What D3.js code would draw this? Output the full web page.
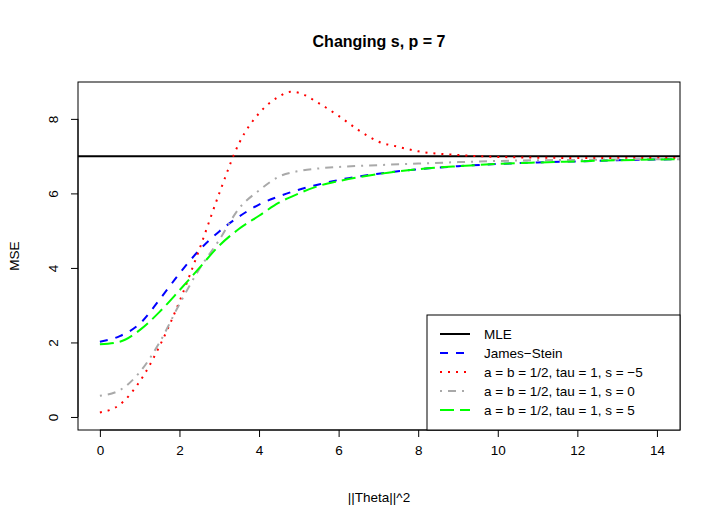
<!DOCTYPE html>
<html><head><meta charset="utf-8">
<script src="https://cdn.jsdelivr.net/npm/d3@7"></script>
<style>body{margin:0;background:#fff}svg{font-family:"Liberation Sans",Arial,sans-serif}</style>
</head><body><svg id="c" width="720" height="528"></svg>
<script>
const xGrid = [0,0.5,1,1.5,2,2.5,3,3.5,4,4.5,5,5.5,6,7,8,9,10,11,12,13,14,14.6];
const jsVals = [2.02,2.17,2.5,3.15,3.85,4.48,4.98,5.38,5.7,5.92,6.1,6.24,6.36,6.53,6.65,6.73,6.79,6.83,6.86,6.89,6.91,6.92];
const s5Vals = [1.95,2.02,2.33,2.82,3.4,4.0,4.6,5.05,5.4,5.75,6.0,6.2,6.33,6.52,6.65,6.73,6.79,6.83,6.86,6.89,6.91,6.92];
const s0Vals = [0.57,0.72,1.2,2.0,3.03,3.97,4.75,5.6,6.08,6.45,6.6,6.67,6.71,6.76,6.8,6.84,6.87,6.89,6.9,6.91,6.92,6.92];
const xRed = [0,0.5,1,1.5,2,2.5,3,3.5,4,4.5,4.8,5,5.5,6,6.5,7,7.5,8,9,10,11,12,13,14,14.6];
const sm5Vals = [0.12,0.33,0.95,1.9,3.1,4.5,6.0,7.35,8.15,8.6,8.73,8.7,8.42,8.08,7.7,7.39,7.25,7.13,7.03,6.98,6.96,6.95,6.95,6.95,6.95];
const mleValue = 7;
const xTicks = [0,2,4,6,8,10,12,14];
const yTicks = [0,2,4,6,8];
const legendLabels = ["MLE","James\u2212Stein","a = b = 1/2, tau = 1, s = \u22125","a = b = 1/2, tau = 1, s = 0","a = b = 1/2, tau = 1, s = 5"];

const L=78,R=680,T=82,B=430;
const svg=d3.select("#c");
const x=d3.scaleLinear().domain([-0.55,14.58]).range([L,R]);
const y=d3.scaleLinear().domain([-0.35,8.99]).range([B,T]);
svg.append("defs").append("clipPath").attr("id","cp").append("rect").attr("x",L).attr("y",T).attr("width",R-L).attr("height",B-T);

const styles=[
 {c:"#000",d:null},
 {c:"#0000FF",d:"8,8"},
 {c:"#FF0000",d:"2,6"},
 {c:"#A9A9A9",d:"2,6,8,6"},
 {c:"#00FF00",d:"14,6"}];
const g=svg.append("g").attr("clip-path","url(#cp)");
const line=d3.line().x(d=>x(d[0])).y(d=>y(d[1])).curve(d3.curveMonotoneX);
g.append("line").attr("x1",L).attr("x2",R).attr("y1",y(mleValue)).attr("y2",y(mleValue)).attr("stroke","#000").attr("stroke-width",2);
const series=[[xGrid,jsVals,1],[xRed,sm5Vals,2],[xGrid,s0Vals,3],[xGrid,s5Vals,4]];
series.forEach(([xs,vs,i])=>{
 g.append("path").attr("d",line(xs.map((v,k)=>[v,vs[k]]))).attr("fill","none")
  .attr("stroke",styles[i].c).attr("stroke-width",2).attr("stroke-dasharray",styles[i].d);
});
svg.append("rect").attr("x",L).attr("y",T).attr("width",R-L).attr("height",B-T).attr("fill","none").attr("stroke","#000");

const xa=svg.append("g").attr("transform",`translate(0,${B})`).call(d3.axisBottom(x).tickValues(xTicks).tickSize(7).tickPadding(8));
const ya=svg.append("g").attr("transform",`translate(${L},0)`).call(d3.axisLeft(y).tickValues(yTicks).tickSize(7).tickPadding(8));
[xa,ya].forEach(a=>{a.select(".domain").remove();a.selectAll("text").attr("font-size",13.5).attr("font-family","Liberation Sans, Arial");});
svg.append("line").attr("x1",x(0)).attr("x2",x(14)).attr("y1",B).attr("y2",B).attr("stroke","#000");
svg.append("line").attr("x1",L).attr("x2",L).attr("y1",y(0)).attr("y2",y(8)).attr("stroke","#000");
ya.selectAll(".tick").each(function(d){
 const t=d3.select(this).select("text");
 t.attr("text-anchor","middle").attr("dy",null).attr("x",null).attr("transform",`translate(-24,0) rotate(-90)`).attr("dominant-baseline","middle");
});

svg.append("text").attr("x",(L+R)/2).attr("y",47).attr("text-anchor","middle").attr("font-weight","bold").attr("font-size",16).text("Changing s, p = 7");
svg.append("text").attr("x",(L+R)/2).attr("y",502).attr("text-anchor","middle").attr("font-size",13.5).text("||Theta||^2");
svg.append("text").attr("transform",`translate(19,${(T+B)/2}) rotate(-90)`).attr("text-anchor","middle").attr("font-size",13.5).text("MSE");

const lg=svg.append("g");
lg.append("rect").attr("x",427).attr("y",315).attr("width",R-427).attr("height",B-315).attr("fill","#fff").attr("stroke","#000");
legendLabels.forEach((t,i)=>{
 const yy=334+i*19;
 lg.append("line").attr("x1",440).attr("x2",470).attr("y1",yy).attr("y2",yy).attr("stroke",styles[i].c).attr("stroke-width",2).attr("stroke-dasharray",styles[i].d);
 lg.append("text").attr("x",484).attr("y",yy).attr("dy","0.35em").attr("font-size",13.5).text(t);
});
</script></body></html>
